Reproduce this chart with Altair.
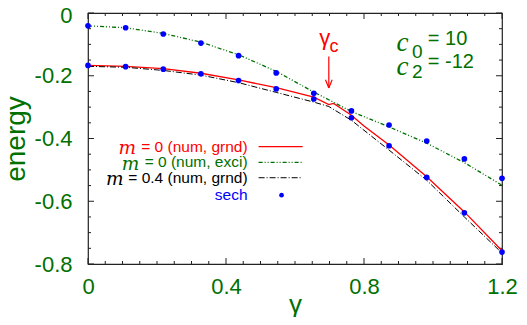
import altair as alt
import pandas as pd

# ---------------- data ----------------
gamma_pts = [0, 0.1091, 0.2182, 0.3273, 0.4364, 0.5455, 0.6545, 0.7636, 0.8727, 0.9818, 1.0909, 1.2]
sech_grnd = [-0.167, -0.171, -0.179, -0.194, -0.215, -0.242, -0.274, -0.334, -0.423, -0.524, -0.637, -0.762]
sech_exci = [-0.041, -0.047, -0.067, -0.096, -0.136, -0.191, -0.256, -0.312, -0.357, -0.408, -0.465, -0.527]

red_g = [0, 0.1091, 0.2182, 0.3273, 0.4364, 0.5455, 0.6545, 0.698, 0.712, 0.7636, 0.80, 0.8727, 0.9818, 1.0909, 1.2]
red_E = [-0.167, -0.170, -0.177, -0.192, -0.213, -0.238, -0.268, -0.292, -0.288, -0.326, -0.360, -0.421, -0.522, -0.634, -0.758]

grn_g = [0, 0.1091, 0.2182, 0.3273, 0.4364, 0.5455, 0.6545, 0.7636, 0.8727, 0.9818, 1.0909, 1.2]
grn_E = [-0.041, -0.047, -0.065, -0.093, -0.133, -0.186, -0.252, -0.314, -0.363, -0.415, -0.477, -0.549]

blk_g = [0, 0.1091, 0.2182, 0.3273, 0.4364, 0.5455, 0.6545, 0.698, 0.7636, 0.8727, 0.9818, 1.0909, 1.2]
blk_E = [-0.170, -0.173, -0.183, -0.198, -0.222, -0.253, -0.284, -0.298, -0.342, -0.437, -0.533, -0.650, -0.765]

x_major = [0, 0.4, 0.8, 1.2]
x_minor = [0.05, 0.1, 0.15, 0.2, 0.25, 0.3, 0.35, 0.45, 0.5, 0.55, 0.6, 0.65, 0.7, 0.75,
           0.85, 0.9, 0.95, 1.0, 1.05, 1.1, 1.15]
y_major = [0, -0.2, -0.4, -0.6, -0.8]
y_minor = [-0.05, -0.1, -0.15, -0.25, -0.3, -0.35, -0.45, -0.5, -0.55, -0.65, -0.7, -0.75]

legend_labels = [" = 0 (num, grnd)", " = 0 (num, exci)", " = 0.4 (num, grnd)", "sech"]

# ---------------- styling ----------------
W, H = 414, 251
GREEN = "#007000"
RED = "#ff0000"
BLUE = "#0000ff"
FONT = "Liberation Sans"
AX = "#222222"

xs = alt.Scale(domain=[0, 1.2], nice=False, zero=False)
ys = alt.Scale(domain=[-0.8, 0], nice=False, zero=False)

XAXIS = alt.Axis(values=x_major, labelExpr="'' + datum.value", ticks=False, tickSize=0,
                 domain=False, grid=False, labelPadding=12, labelFlush=False,
                 labelFontSize=22, titleFontSize=26,
                 titleX=W / 2, titleY=48, titleBaseline="alphabetic", titleAlign="center")
YAXIS = alt.Axis(values=y_major, labelExpr="'' + datum.value", ticks=False, tickSize=0,
                 domain=False, grid=False, labelPadding=16, labelFlush=False,
                 labelOffset={"condition": {"test": "datum.value === 0", "value": 2.5}, "value": 0},
                 labelFontSize=22, titleFontSize=28,
                 titleX=-64, titleY=H / 2, titleAngle=270, titleBaseline="alphabetic",
                 titleAlign="center")


def X(f):
    return alt.X(f, type="quantitative", scale=xs, axis=XAXIS, title="γ")


def Y(f):
    return alt.Y(f, type="quantitative", scale=ys, axis=YAXIS, title="energy")


def line(gs, es, color, dash=None, width=1.3):
    df = pd.DataFrame({"g": gs, "E": es})
    kw = dict(color=color, strokeWidth=width)
    if dash:
        kw["strokeDash"] = dash
    return alt.Chart(df).mark_line(**kw).encode(x=X("g"), y=Y("E"))


def txt(xv, yv, s, size, color, font=FONT, style="normal", align="left", baseline="alphabetic"):
    df = pd.DataFrame({"x": [xv], "y": [yv], "t": [s]})
    return alt.Chart(df).mark_text(
        font=font, fontSize=size, color=color, fontStyle=style, align=align, baseline=baseline
    ).encode(x=X("x"), y=Y("y"), text="t:N")


def seg(x1, y1, x2, y2, color, dash=None, width=1.3):
    df = pd.DataFrame({"x": [x1], "y": [y1], "x2": [x2], "y2": [y2]})
    kw = dict(color=color, strokeWidth=width)
    if dash:
        kw["strokeDash"] = dash
    return alt.Chart(df).mark_rule(**kw).encode(
        x=X("x"), y=Y("y"), x2="x2:Q", y2="y2:Q"
    )


pts = pd.DataFrame({"g": gamma_pts + gamma_pts, "E": sech_grnd + sech_exci})
points = alt.Chart(pts).mark_circle(color=BLUE, opacity=1, size=32).encode(x=X("g"), y=Y("E"))

red_line = line(red_g, red_E, RED, width=1.3)
grn_line = line(grn_g, grn_E, GREEN, dash=[4, 2, 1, 2, 1, 2], width=1.3)
blk_line = line(blk_g, blk_E, "#000000", dash=[6, 2, 1, 2], width=1.0)


# inward ticks on all four sides
def vticks(vals, L):
    df = pd.DataFrame({"t": vals})
    b = alt.Chart(df).mark_rule(color=AX, strokeWidth=1).encode(
        x=X("t"), y=alt.value(H), y2=alt.value(H - L))
    t = alt.Chart(df).mark_rule(color=AX, strokeWidth=1).encode(
        x=X("t"), y=alt.value(0), y2=alt.value(L))
    return b + t


def hticks(vals, L):
    df = pd.DataFrame({"t": vals})
    l = alt.Chart(df).mark_rule(color=AX, strokeWidth=1).encode(
        y=Y("t"), x=alt.value(0), x2=alt.value(L))
    r = alt.Chart(df).mark_rule(color=AX, strokeWidth=1).encode(
        y=Y("t"), x=alt.value(W), x2=alt.value(W - L))
    return l + r


ticks = vticks(x_major, 6) + vticks(x_minor, 3) + hticks(y_major, 6) + hticks(y_minor, 3)

# annotations
gc = (txt(0.686, -0.101, "γ", 22, RED, align="center")
      + txt(0.700, -0.124, "c", 18, RED)
      + seg(0.698, -0.139, 0.698, -0.238, RED, width=1.2)
      + seg(0.6884, -0.213, 0.698, -0.239, RED, width=1.2)
      + seg(0.7076, -0.213, 0.698, -0.239, RED, width=1.2))

cc = (txt(0.894, -0.1227, "c", 27, GREEN, font="Liberation Serif", style="italic")
      + txt(0.939, -0.1428, "0", 19, GREEN)
      + txt(0.985, -0.1013, "= 10", 20, GREEN)
      + txt(0.894, -0.197, "c", 27, GREEN, font="Liberation Serif", style="italic")
      + txt(0.939, -0.2067, "2", 19, GREEN)
      + txt(0.985, -0.1748, "= -12", 20, GREEN))

# legend
LX = 0.4626
rows = [-0.4262, -0.476, -0.525, -0.5805]
MS = 18.5
leg = (txt(LX, rows[0], legend_labels[0], 15.5, RED, align="right", baseline="middle")
       + txt(0.139, rows[0] - 0.004, "m", MS, RED, font="DejaVu Serif", style="italic", align="right", baseline="middle")
       + txt(LX, rows[1], legend_labels[1], 15.5, GREEN, align="right", baseline="middle")
       + txt(0.149, rows[1] - 0.004, "m", MS, GREEN, font="DejaVu Serif", style="italic", align="right", baseline="middle")
       + txt(LX, rows[2], legend_labels[2], 15.5, "#000000", align="right", baseline="middle")
       + txt(0.103, rows[2] - 0.004, "m", MS, "#000000", font="DejaVu Serif", style="italic", align="right", baseline="middle")
       + txt(LX, rows[3], legend_labels[3], 15.5, BLUE, align="right", baseline="middle")
       + seg(0.4945, rows[0], 0.622, rows[0], RED, width=1.3)
       + seg(0.4945, rows[1], 0.622, rows[1], GREEN, dash=[4, 2, 1, 2, 1, 2], width=1.3)
       + seg(0.4945, rows[2], 0.622, rows[2], "#000000", dash=[6, 2, 1, 2], width=1.0)
       + alt.Chart(pd.DataFrame({"x": [0.561], "y": [rows[3]]})).mark_circle(
           color=BLUE, opacity=1, size=22).encode(x=X("x"), y=Y("y")))

chart = alt.layer(
    ticks, red_line, grn_line, blk_line, points, gc, cc, leg
).properties(
    width=W, height=H,
    autosize=alt.AutoSizeParams(type="none"),
    padding={"left": 80, "top": 5, "right": 17, "bottom": 53},
).configure_view(
    stroke=AX, strokeWidth=1.2
).configure_axis(
    labelFont=FONT, titleFont=FONT, labelColor=GREEN, titleColor=GREEN,
    titleFontWeight="normal",
)

chart.save("out.html", embed_options={"renderer": "svg", "actions": False})
